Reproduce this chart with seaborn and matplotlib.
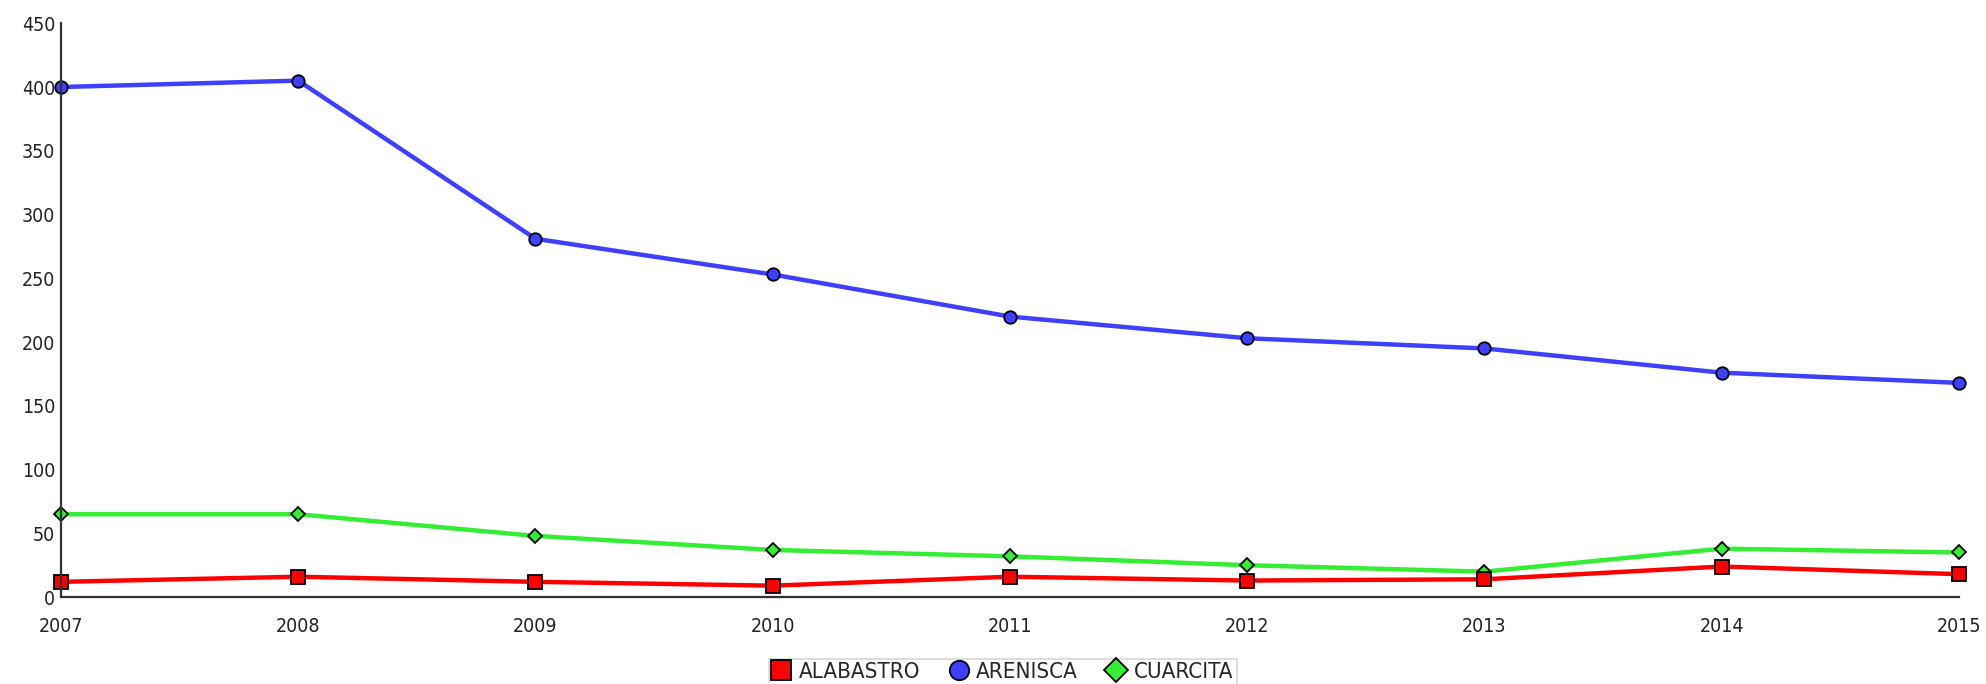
import numpy as np
import pandas as pd
import matplotlib.pyplot as plt
import seaborn as sns
from matplotlib.lines import Line2D

years = [2007, 2008, 2009, 2010, 2011, 2012, 2013, 2014, 2015]
alabastro = [12, 16, 12, 9, 16, 13, 14, 24, 18]
arenisca = [400, 405, 281, 253, 220, 203, 195, 176, 168]
cuarcita = [65, 65, 48, 37, 32, 25, 20, 38, 35]

series_names = ["ALABASTRO", "ARENISCA", "CUARCITA"]
colors = {"ALABASTRO": "#ff0000", "ARENISCA": "#3f3fff", "CUARCITA": "#33ee33"}
markers = {"ALABASTRO": "s", "ARENISCA": "o", "CUARCITA": "D"}
msizes = {"ALABASTRO": 10, "ARENISCA": 9, "CUARCITA": 7}

df = pd.DataFrame({"year": years * 3,
                   "value": alabastro + arenisca + cuarcita,
                   "serie": np.repeat(series_names, len(years))})

sns.set_style("white")
plt.rcParams['font.family'] = ['DejaVu Sans']
plt.rcParams['font.stretch'] = 'condensed'

fig = plt.figure(figsize=(19.86, 6.84), dpi=100)
ax = fig.add_axes([0.0307, 0.127, 0.9557, 0.839])

# draw order: green, blue, red on top
for name in ["CUARCITA", "ARENISCA", "ALABASTRO"]:
    sub = df[df["serie"] == name]
    sns.lineplot(data=sub, x="year", y="value", ax=ax, color=colors[name],
                 linewidth=3.2, marker=markers[name], markersize=msizes[name],
                 markeredgecolor="black", markeredgewidth=1.3, clip_on=False,
                 legend=False)

ax.set_xlim(2007, 2015)
ax.set_ylim(0, 450)
ax.set_xticks(years)
ax.set_xticklabels([str(y) for y in years])
ax.set_yticks(range(0, 451, 50))
ax.set_xlabel("")
ax.set_ylabel("")
ax.tick_params(axis="both", length=0, labelsize=14, colors="#222222")
ax.tick_params(axis="x", pad=14)
ax.tick_params(axis="y", pad=4)
for s in ["top", "right"]:
    ax.spines[s].set_visible(False)
for s in ["left", "bottom"]:
    ax.spines[s].set_color("#333333")
    ax.spines[s].set_linewidth(1.6)

handles = [Line2D([], [], linestyle="none", marker=markers[n], markersize=msizes[n] + 5,
                  markerfacecolor=colors[n], markeredgecolor="black", markeredgewidth=1.3)
           for n in series_names]
leg = fig.legend(handles, series_names, loc="lower center", bbox_to_anchor=(0.505, -0.005),
                 ncol=3, frameon=True, fancybox=False, fontsize=16,
                 handlelength=0.8, handletextpad=0.4, columnspacing=1.3,
                 borderpad=0.15, borderaxespad=0.1)
leg.get_frame().set_edgecolor("#cccccc")
leg.get_frame().set_linewidth(1.2)

fig.savefig("out.png", dpi=100)
